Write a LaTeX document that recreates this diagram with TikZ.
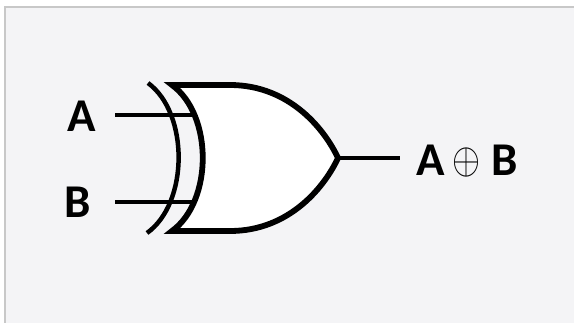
\documentclass[tikz,border=0pt]{standalone}
\usepackage{fontspec}
\setmainfont{Carlito}
\definecolor{bgc}{RGB}{244,244,246}
\definecolor{bordc}{RGB}{200,200,200}
\begin{document}
\begin{tikzpicture}[x=1pt,y=-1pt,
  gateline/.style={line width=5.8pt, line join=miter},
  backarc/.style={line width=4.5pt},
  wire/.style={line width=4pt},
  lbl/.style={inner sep=0pt, font=\fontsize{47}{50}\selectfont\bfseries, anchor=base west}]
\useasboundingbox (0,0) rectangle (574,322);
\fill[white] (0,0) rectangle (574,322);
\draw[fill=bgc, draw=bordc, line width=1.5pt] (5,7) rectangle (590,340);
% labels
\node[lbl] (A) at (67.5,131) {A};
\node[lbl] (B) at (64,217) {B};
\node[lbl] (Q) at (416.5,175) {A\hspace{7pt}\raisebox{2pt}{\scalebox{3.6}[4.4]{\fontsize{10}{10}\selectfont$\oplus$}}\hspace{11pt}B};
% wire end points
\coordinate (wA) at (115,115);
\coordinate (gA) at (197,115);
\coordinate (wB) at (115,202);
\coordinate (gB) at (197,202);
\coordinate (tip) at (338,158);
\coordinate (wQ) at (400,158);
% extra curve of the XOR gate
\draw[backarc] (148,83) .. controls (189,113) and (189,203) .. (147,233);
% input wires
\draw[wire] (wA) -- (gA);
\draw[wire] (wB) -- (gB);
% gate body
\draw[gateline, fill=white] (172,85) -- (230,85)
  .. controls (290,85) and (325,130) .. (tip)
  .. controls (325,186) and (290,231) .. (230,231) -- (172,231)
  .. controls (213,201) and (213,115) .. cycle;
% output wire
\draw[wire] (tip) -- (wQ);
\end{tikzpicture}
\end{document}
